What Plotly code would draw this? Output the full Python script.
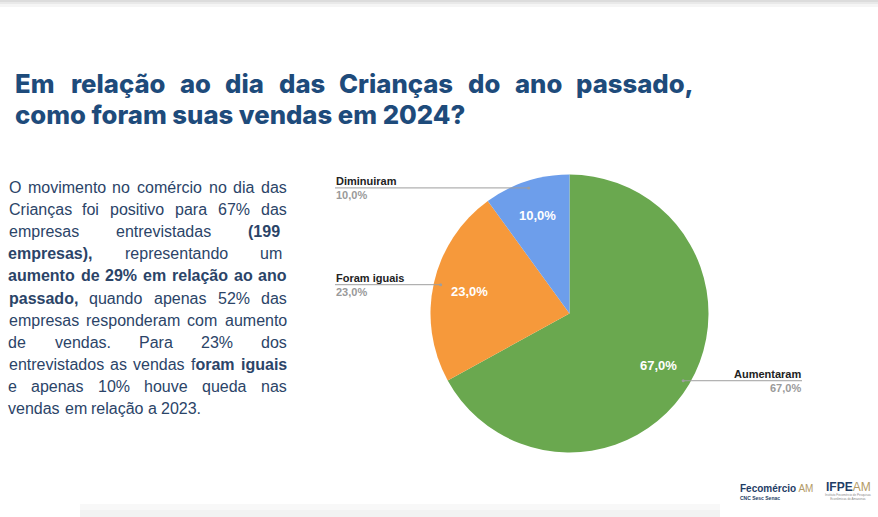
import math
import unicodedata
import plotly.graph_objects as go

# ---------------- data ----------------
CATEGORIES = ["Aumentaram", "Foram iguais", "Diminuiram"]
VALUES = [67.0, 23.0, 10.0]
COLORS = ["#6aa84f", "#f6993b", "#6d9eeb"]

TITLE_LINE1 = "Em relação ao dia das Crianças do ano passado,"
TITLE_LINE2 = "como foram suas vendas em 2024?"

BODY_LINES = [
    [("O movimento no comércio no dia das", False)],
    [("Crianças foi positivo para 67% das", False)],
    [("empresas entrevistadas ", False), ("(199", True)],
    [("empresas),", True), (" representando um", False)],
    [("aumento de 29% em relação ao ano", True)],
    [("passado,", True), (" quando apenas 52% das", False)],
    [("empresas responderam com aumento", False)],
    [("de vendas. Para 23% dos", False)],
    [("entrevistados as vendas f", False), ("oram iguais", True)],
    [("e apenas 10% houve queda nas", False)],
    [("vendas em relação a 2023.", False)],
]

# ---------------- layout helpers ----------------
W, H = 878, 517


def px(x):
    return x / W


def py(y):
    return 1 - y / H


REG = {' ': 278, '%': 889, '(': 333, ')': 333, ',': 278, '.': 278, '?': 556,
       'O': 778, 'C': 722, 'P': 667, 'E': 667,
       'a': 556, 'b': 556, 'c': 500, 'd': 556, 'e': 556, 'f': 278, 'g': 556, 'h': 556,
       'i': 222, 'j': 222, 'k': 500, 'l': 222, 'm': 833, 'n': 556, 'o': 556, 'p': 556,
       'q': 556, 'r': 333, 's': 500, 't': 278, 'u': 556, 'v': 500, 'w': 722, 'x': 500,
       'y': 500, 'z': 500}
BOLD = {' ': 278, '%': 889, '(': 333, ')': 333, ',': 278, '.': 278, '?': 611,
        'C': 722, 'E': 667,
        'a': 556, 'b': 611, 'c': 556, 'd': 611, 'e': 556, 'f': 333, 'g': 611, 'h': 611,
        'i': 278, 'j': 278, 'k': 556, 'l': 278, 'm': 889, 'n': 611, 'o': 611, 'p': 611,
        'q': 611, 'r': 389, 's': 556, 't': 333, 'u': 611, 'v': 556, 'w': 778, 'x': 556,
        'y': 556, 'z': 500}


def text_w(s, bold, size):
    tbl = BOLD if bold else REG
    tot = 0
    for ch in s:
        base = unicodedata.normalize('NFD', ch)[0]
        tot += tbl.get(base, 556)
    return tot * size / 1000.0


def split_words(runs):
    words = []
    cur = []
    for txt, b in runs:
        piece = ""
        for ch in txt:
            if ch == " ":
                if piece:
                    cur.append((piece, b))
                    piece = ""
                if cur:
                    words.append(cur)
                    cur = []
            else:
                piece += ch
        if piece:
            cur.append((piece, b))
    if cur:
        words.append(cur)
    return words


annotations = []
shapes = []

# ---------------- title ----------------
TITLE_COLOR = "#1e4b7b"
TSIZE = 25.7
TFONT = dict(family="Inter, Lato, sans-serif", size=TSIZE, color=TITLE_COLOR, weight=800)
t_words = TITLE_LINE1.split(" ")
t_left, t_right = 15, 693
k = 1.04
t_w = [text_w(wd, True, TSIZE) * k for wd in t_words]
gap = (t_right - t_left - sum(t_w)) / (len(t_words) - 1)
xx = t_left
for i, wd in enumerate(t_words):
    if i == len(t_words) - 1:
        annotations.append(dict(x=px(t_right + 2), y=py(84), xref="paper", yref="paper",
                                text=wd, showarrow=False, xanchor="right", yanchor="middle",
                                font=TFONT, borderpad=0))
    elif i == 0:
        annotations.append(dict(x=px(t_left - 1), y=py(84), xref="paper", yref="paper",
                                text=wd, showarrow=False, xanchor="left", yanchor="middle",
                                font=TFONT, borderpad=0))
    else:
        annotations.append(dict(x=px(xx + t_w[i] / 2), y=py(84), xref="paper", yref="paper",
                                text=wd, showarrow=False, xanchor="center", yanchor="middle",
                                font=TFONT, borderpad=0))
    xx += t_w[i] + gap
annotations.append(dict(x=px(t_left - 1), y=py(115), xref="paper", yref="paper",
                        text=TITLE_LINE2, showarrow=False, xanchor="left", yanchor="middle",
                        font=TFONT, borderpad=0))

# ---------------- body paragraph ----------------
BODY_COLOR = "#2b4468"
BSIZE = 16
BFONT = dict(family="'Liberation Sans', Arial, sans-serif", size=BSIZE, color=BODY_COLOR)
LEFT = 8.5
RIGHTS = [287, 287, 280, 282, 287, 287, 287, 287, 287, 287, None]
Y0, DY = 187.5, 22.1
for li, runs in enumerate(BODY_LINES):
    words = split_words(runs)
    widths = [sum(text_w(p, b, BSIZE) for p, b in wd) for wd in words]
    right = RIGHTS[li]
    if right is None:
        g = text_w(" ", False, BSIZE)
    else:
        g = (right - LEFT - sum(widths)) / (len(words) - 1)
    y = Y0 + li * DY
    xx = LEFT
    for wi, wd in enumerate(words):
        html = "".join(("<b>%s</b>" % p) if b else p for p, b in wd)
        annotations.append(dict(x=px(xx + widths[wi] / 2), y=py(y), xref="paper", yref="paper",
                                text=html, showarrow=False, xanchor="center",
                                yanchor="middle", font=BFONT, borderpad=0))
        xx += widths[wi] + g

# ---------------- pie ----------------
CX, CY, R = 569.5, 313.5, 139.0
total = sum(VALUES)

fig = go.Figure()
fig.add_trace(go.Pie(
    labels=CATEGORIES, values=VALUES, sort=False, direction="clockwise", rotation=0,
    marker=dict(colors=COLORS, line=dict(width=0)),
    textinfo="none", showlegend=False, hole=0,
    domain=dict(x=[px(CX - R), px(CX + R)], y=[py(CY + R), py(CY - R)]),
))

LBL_FONT = dict(family="'Liberation Sans', Arial, sans-serif", size=11, color="#222222")
PCT_FONT = dict(family="'Liberation Sans', Arial, sans-serif", size=11, color="#9a9a9a")
IN_FONT = dict(family="'Liberation Sans', Arial, sans-serif", size=13, color="#ffffff")

start = 0.0
for cat, v in zip(CATEGORIES, VALUES):
    mid = math.radians((start + v / 2) / total * 360)
    start += v
    pct = ("%.1f" % (v / total * 100)).replace(".", ",") + "%"
    # inside label
    ix = CX + 0.74 * R * math.sin(mid)
    iy = CY - 0.74 * R * math.cos(mid)
    annotations.append(dict(x=px(ix), y=py(iy), xref="paper", yref="paper",
                            text="<b>%s</b>" % pct, showarrow=False, font=IN_FONT,
                            xanchor="center", yanchor="middle"))
    # leader line
    ex = CX + 0.95 * R * math.sin(mid)
    ey = CY - 0.95 * R * math.cos(mid)
    if math.sin(mid) < 0:
        lx = 335
        anchor = "left"
    else:
        lx = 802
        anchor = "right"
    shapes.append(dict(type="line", xref="paper", yref="paper",
                       x0=px(lx), x1=px(ex), y0=py(ey), y1=py(ey),
                       line=dict(color="#9e9e9e", width=1)))
    shapes.append(dict(type="circle", xref="paper", yref="paper",
                       x0=px(ex - 1.5), x1=px(ex + 1.5), y0=py(ey - 1.5), y1=py(ey + 1.5),
                       fillcolor="#9e9e9e", line=dict(width=0)))
    annotations.append(dict(x=px(lx), y=py(ey - 7), xref="paper", yref="paper",
                            text="<b>%s</b>" % cat, showarrow=False, font=LBL_FONT,
                            xanchor=anchor, yanchor="middle", borderpad=0))
    annotations.append(dict(x=px(lx), y=py(ey + 7.5), xref="paper", yref="paper",
                            text="<b>%s</b>" % pct, showarrow=False, font=PCT_FONT,
                            xanchor=anchor, yanchor="middle", borderpad=0))

# ---------------- logos (text) ----------------
NAVY = "#1f3d66"
GOLD = "#b39a66"
annotations += [
    dict(x=px(739), y=py(488), xref="paper", yref="paper", showarrow=False,
         xanchor="left", yanchor="middle", borderpad=0,
         text="<b>Fecomércio</b> <span style='color:%s'>AM</span>" % GOLD,
         font=dict(family="'Liberation Sans', Arial", size=10, color=NAVY)),
    dict(x=px(739), y=py(498), xref="paper", yref="paper", showarrow=False,
         xanchor="left", yanchor="middle", borderpad=0,
         text="<b>CNC Sesc Senac</b>",
         font=dict(family="'Liberation Sans', Arial", size=5, color=NAVY)),
    dict(x=px(825), y=py(487), xref="paper", yref="paper", showarrow=False,
         xanchor="left", yanchor="middle", borderpad=0,
         text="<b>IFPE</b><span style='color:%s'>AM</span>" % GOLD,
         font=dict(family="'Liberation Sans', Arial", size=12, color=NAVY)),
    dict(x=px(848), y=py(497), xref="paper", yref="paper", showarrow=False,
         xanchor="center", yanchor="middle", borderpad=0,
         text="Instituto Fecomércio de Pesquisas<br>Econômicas do Amazonas",
         font=dict(family="'Liberation Sans', Arial", size=3, color="#8a8a8a")),
]

# ---------------- slide edges ----------------
for y0, y1, c in [(0, 2, "#dcdcdc"), (2, 4, "#e9e9e9"), (4, 7, "#f5f5f5")]:
    shapes.append(dict(type="rect", xref="paper", yref="paper", x0=0, x1=1,
                       y0=py(y1), y1=py(y0), fillcolor=c, line=dict(width=0), layer="below"))
for y0, y1, c in [(504, 510, "#f8f8f8"), (510, 517, "#f2f2f2")]:
    shapes.append(dict(type="rect", xref="paper", yref="paper", x0=px(80), x1=px(720),
                       y0=py(y1), y1=py(y0), fillcolor=c, line=dict(width=0), layer="below"))

fig.update_layout(
    width=W, height=H, margin=dict(l=0, r=0, t=0, b=0),
    paper_bgcolor="#ffffff", plot_bgcolor="#ffffff",
    annotations=annotations, shapes=shapes, showlegend=False,
)

fig.write_html("out.html", include_plotlyjs=True, config={"displayModeBar": False},
               post_script="document.body.style.margin='0';document.body.style.overflow='hidden';")
